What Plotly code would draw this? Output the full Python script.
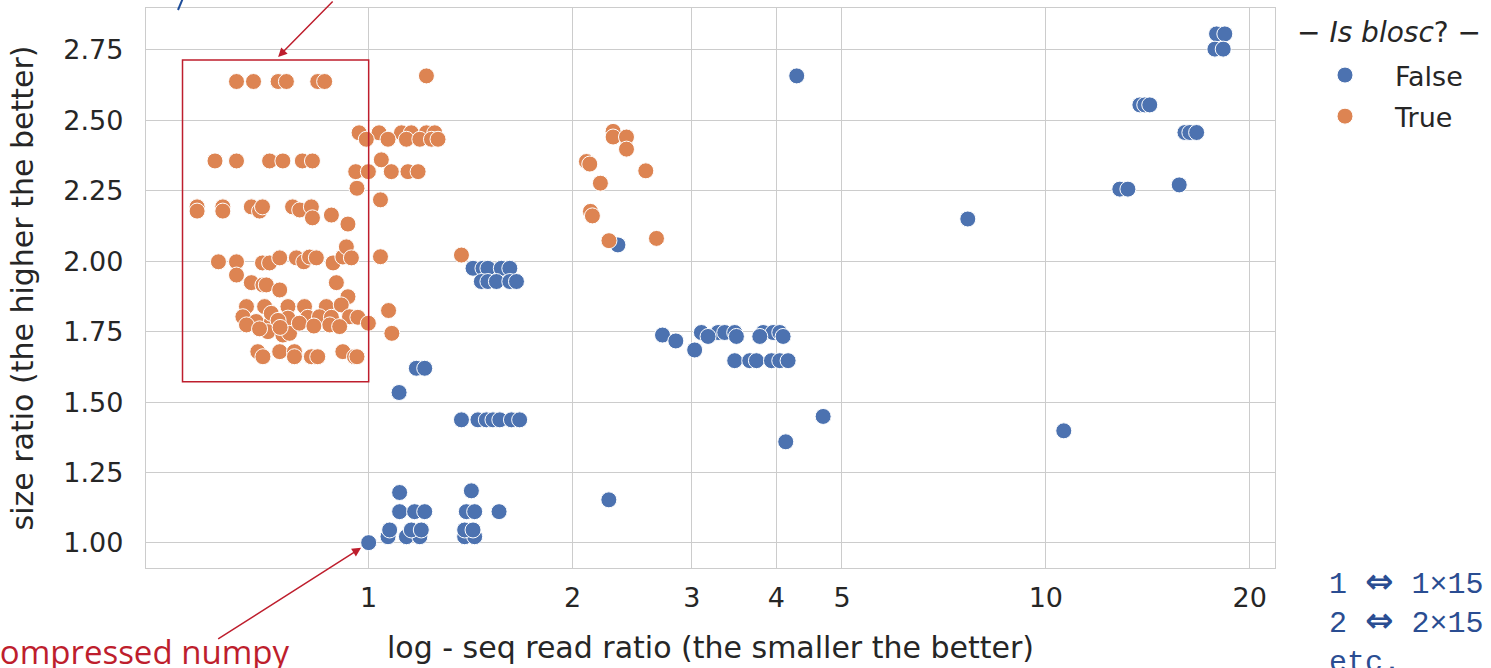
import math
import plotly.graph_objects as go

# ---- data ----
false_x = [1.0,
           1.068, 1.137, 1.190, 1.386, 1.434,
           1.074, 1.156, 1.196, 1.386, 1.426,
           1.111, 1.169, 1.210, 1.394, 1.434, 1.558,
           1.111, 1.418,
           1.109, 1.176, 1.210,
           1.371, 1.450, 1.492, 1.526, 1.562, 1.625, 1.671,
           1.426, 1.475, 1.500, 1.570, 1.616,
           1.467, 1.500, 1.544, 1.616, 1.653,
           2.334, 2.263,
           2.716, 2.842, 3.030,
           3.100, 3.281, 3.356, 3.472, 3.824, 3.956, 4.047,
           3.171, 3.492, 3.781, 4.093,
           3.472, 3.654, 3.738, 3.934, 4.047, 4.163,
           4.287, 4.130, 4.69, 7.67, 10.63,
           12.86, 13.22,
           13.77, 14.0, 14.24,
           16.05, 16.32, 16.70,
           15.74,
           17.87, 18.38, 17.77, 18.28]
false_y = [1.001,
           1.022, 1.022, 1.022, 1.022, 1.022,
           1.046, 1.046, 1.046, 1.046, 1.046,
           1.111, 1.111, 1.111, 1.111, 1.111, 1.111,
           1.179, 1.185,
           1.534, 1.620, 1.620,
           1.437, 1.437, 1.437, 1.437, 1.437, 1.437, 1.437,
           1.975, 1.975, 1.975, 1.975, 1.975,
           1.928, 1.928, 1.928, 1.928, 1.928,
           2.058, 1.153,
           1.738, 1.717, 1.685,
           1.747, 1.747, 1.747, 1.747, 1.747, 1.747, 1.747,
           1.733, 1.733, 1.733, 1.733,
           1.647, 1.647, 1.647, 1.647, 1.647, 1.647,
           2.658, 1.359, 1.449, 2.150, 1.398,
           2.256, 2.256,
           2.555, 2.555, 2.555,
           2.457, 2.457, 2.457,
           2.271,
           2.807, 2.807, 2.753, 2.753]

true_x = [0.638, 0.676, 0.735, 0.756, 0.841, 0.861,
          0.593, 0.638, 0.714, 0.747, 0.798, 0.826,
          0.558, 0.558, 0.609, 0.609, 0.671, 0.690, 0.697, 0.772, 0.791, 0.823, 0.826, 0.881, 0.932,
          0.600, 0.638, 0.697, 0.714, 0.739, 0.782, 0.802, 0.818, 0.837, 0.886, 0.916, 0.927, 0.943,
          0.638, 0.671, 0.698, 0.706, 0.739, 0.896, 0.932,
          0.660, 0.702, 0.760, 0.804, 0.866, 0.911,
          0.652, 0.682, 0.718, 0.760, 0.813, 0.846, 0.881, 0.937, 0.964, 0.999,
          0.660, 0.710, 0.747, 0.764, 0.876, 0.906, 0.718,
          0.735, 0.790, 0.830, 0.690, 0.740,
          0.686, 0.698, 0.739, 0.777, 0.777, 0.823, 0.841, 0.916, 0.953, 0.961,
          1.217,
          0.968, 1.036, 1.118, 1.156, 1.217, 1.252,
          0.992, 1.068, 1.137, 1.190, 1.238, 1.266,
          1.044,
          0.957, 0.999, 1.080, 1.143, 1.183,
          0.961, 1.041, 1.041, 1.371,
          1.070, 1.082,
          2.296, 2.296, 2.403, 2.403, 2.097, 2.121, 2.566, 2.199, 2.126, 2.140, 2.264, 2.661]
true_y = [2.638, 2.638, 2.638, 2.638, 2.638, 2.638,
          2.356, 2.356, 2.356, 2.356, 2.356, 2.356,
          2.193, 2.178, 2.193, 2.178, 2.193, 2.178, 2.193, 2.193, 2.182, 2.193, 2.154, 2.164, 2.132,
          1.998, 1.998, 1.994, 1.994, 2.012, 2.012, 1.998, 2.015, 2.012, 1.994, 2.015, 2.051, 2.012,
          1.951, 1.924, 1.916, 1.916, 1.898, 1.924, 1.874,
          1.839, 1.839, 1.839, 1.839, 1.839, 1.845,
          1.803, 1.786, 1.782, 1.798, 1.801, 1.803, 1.801, 1.803, 1.801, 1.780,
          1.774, 1.750, 1.738, 1.744, 1.774, 1.768, 1.815,
          1.790, 1.780, 1.770, 1.760, 1.765,
          1.679, 1.661, 1.679, 1.679, 1.661, 1.661, 1.661, 1.679, 1.661, 1.661,
          2.658,
          2.456, 2.456, 2.456, 2.456, 2.456, 2.456,
          2.433, 2.433, 2.433, 2.433, 2.433, 2.433,
          2.360,
          2.318, 2.318, 2.318, 2.318, 2.318,
          2.259, 2.218, 2.016, 2.022,
          1.825, 1.744,
          2.461, 2.441, 2.441, 2.398, 2.354, 2.345, 2.321, 2.277, 2.177, 2.161, 2.073, 2.081]

x_ticks = [1, 2, 3, 4, 5, 10, 20]
x_tick_labels = ["1", "2", "3", "4", "5", "10", "20"]
y_ticks = [1.00, 1.25, 1.50, 1.75, 2.00, 2.25, 2.50, 2.75]
y_tick_labels = ["1.00", "1.25", "1.50", "1.75", "2.00", "2.25", "2.50", "2.75"]

x_range = [0.469, 21.8]
y_range = [0.911, 2.899]

# highlighted box (data coords)
box_x = [0.531, 1.0]
box_y = [1.5725, 2.7145]

BLUE = "#4c72b0"
ORANGE = "#dd8452"
RED = "#be1e2d"
TXT = "#262626"
GRID = "#cccccc"

L, R, T, B = 146, 216, 8, 100
PW, PH = 1491 - L - R, 668 - T - B


def px(xp):
    return (xp - L) / PW


def py(yp):
    return (668 - B - yp) / PH


fig = go.Figure()
fig.add_trace(go.Scatter(
    x=false_x, y=false_y, mode="markers", name="False", legendgroup="f",
    marker=dict(color=BLUE, size=16, line=dict(color="white", width=1))))
fig.add_trace(go.Scatter(
    x=true_x, y=true_y, mode="markers", name="True", legendgroup="t",
    marker=dict(color=ORANGE, size=16, line=dict(color="white", width=1))))

fig.add_shape(type="rect", xref="x", yref="y",
              x0=box_x[0], x1=box_x[1], y0=box_y[0], y1=box_y[1],
              line=dict(color=RED, width=1.5), fillcolor="rgba(0,0,0,0)")

# arrow to the box
fig.add_annotation(x=math.log10(0.735), y=2.725, xref="x", yref="y",
                   ax=56, ay=-67, showarrow=True, arrowhead=2, arrowsize=1.2,
                   arrowwidth=1.5, arrowcolor=RED, text="")
# arrow to uncompressed numpy point
fig.add_annotation(x=0, y=1.0, xref="x", yref="y",
                   ax=-152, ay=97, showarrow=True, arrowhead=2, arrowsize=1.2,
                   arrowwidth=1.5, arrowcolor=RED, standoff=9, text="")
fig.add_annotation(x=px(291), y=py(651), xref="paper", yref="paper",
                   xanchor="right", yanchor="middle", showarrow=False,
                   text="compressed numpy",
                   font=dict(family="Open Sans", size=33, color=RED))
# blue fragment at top
fig.add_shape(type="line", xref="paper", yref="paper",
              x0=px(178), y0=py(10), x1=px(183), y1=py(-2),
              line=dict(color="#1f4e9a", width=2))

ARROW = "<span style=\"font-family:DejaVu Sans;font-weight:bold;font-size:34px\">⇔</span>"
fig.add_annotation(x=px(1327), y=py(621), xref="paper", yref="paper",
                   xanchor="left", yanchor="middle", showarrow=False, align="left",
                   text=f"1 {ARROW} 1×15<br>2 {ARROW} 2×15<br>etc.",
                   font=dict(family="Liberation Mono", size=30, color="#2a4d92"))

# legend title
fig.add_annotation(x=px(1389), y=py(33), xref="paper", yref="paper",
                   xanchor="center", yanchor="middle", showarrow=False,
                   text="− <i>Is blosc</i>? −",
                   font=dict(family="DejaVu Sans", size=28, color=TXT))

fig.update_layout(
    width=1491, height=668,
    margin=dict(l=L, r=R, t=T, b=B),
    paper_bgcolor="white", plot_bgcolor="white",
    font=dict(family="DejaVu Sans", color=TXT),
    showlegend=True,
    legend=dict(
        x=px(1295), y=py(51), xanchor="left", yanchor="top",
        font=dict(size=27, color=TXT), itemwidth=90, tracegroupgap=3,
        bgcolor="rgba(0,0,0,0)"),
    xaxis=dict(type="log", range=[math.log10(x_range[0]), math.log10(x_range[1])],
               tickvals=x_ticks, ticktext=x_tick_labels, showgrid=True,
               gridcolor=GRID, gridwidth=1.3, zeroline=False,
               showline=True, linecolor=GRID, linewidth=1.3, mirror=True,
               ticks="", ticklabelstandoff=5, tickfont=dict(size=27, color=TXT),
               title=dict(text="log - seq read ratio (the smaller the better)",
                          font=dict(size=30, color=TXT), standoff=25)),
    yaxis=dict(range=y_range, tickvals=y_ticks, ticktext=y_tick_labels,
               showgrid=True, gridcolor=GRID, gridwidth=1.3, zeroline=False,
               showline=True, linecolor=GRID, linewidth=1.3, mirror=True,
               ticks="", ticklabelstandoff=16, tickfont=dict(size=27, color=TXT),
               title=dict(text="size ratio (the higher the better)",
                          font=dict(size=30, color=TXT), standoff=20)),
)

fig.write_html("out.html")
